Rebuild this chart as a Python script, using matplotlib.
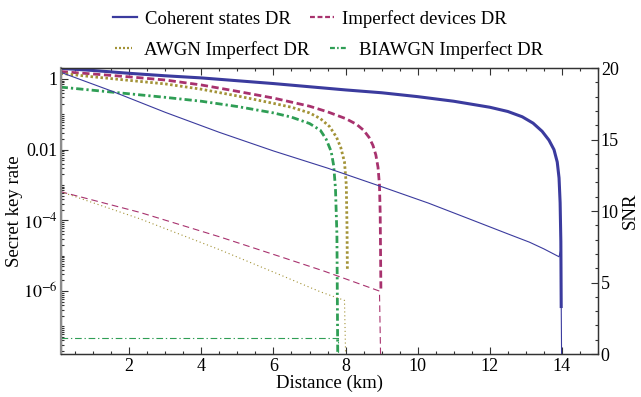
import numpy as np
import matplotlib.pyplot as plt
from matplotlib.ticker import MultipleLocator, LogLocator, FixedLocator, NullFormatter
from matplotlib.lines import Line2D

plt.rcParams['font.family'] = ['Liberation Serif', 'DejaVu Serif']
plt.rcParams['mathtext.fontset'] = 'stix'
plt.rcParams['font.size'] = 13

# key rates (log10 of rate) vs distance in km
d_coh = [0.1, 1, 2, 3, 4, 5, 6, 7, 8, 9, 10, 11, 12, 12.5, 12.9, 13.2, 13.45, 13.64,
         13.78, 13.87, 13.92, 13.95, 13.97, 13.98]
k_coh = [0.30, 0.24, 0.16, 0.09, 0.03, -0.05, -0.13, -0.22, -0.31, -0.39, -0.50,
         -0.63, -0.80, -0.92, -1.07, -1.25, -1.48, -1.73, -2.0, -2.35, -2.8, -3.5,
         -4.6, -6.48]

d_imp = [0.1, 1, 2, 3, 4, 5, 6, 7, 7.5, 8, 8.3, 8.5, 8.65, 8.76, 8.84, 8.9, 8.94,
         8.96, 8.98]
k_imp = [0.21, 0.14, 0.06, -0.03, -0.17, -0.35, -0.54, -0.77, -0.93, -1.12, -1.28,
         -1.45, -1.65, -1.88, -2.15, -2.5, -3.0, -3.8, -6.0]

d_awgn = [0.1, 1, 2, 3, 4, 5, 6, 6.5, 7, 7.3, 7.56, 7.75, 7.87, 7.97, 8.02, 8.04, 8.05]
k_awgn = [0.16, 0.06, -0.04, -0.14, -0.29, -0.48, -0.69, -0.80, -0.96, -1.12, -1.35,
          -1.65, -1.95, -2.35, -3.0, -4.2, -5.43]

d_bi = [0.1, 1, 2, 3, 4, 5, 6, 6.5, 7, 7.3, 7.46, 7.6, 7.67, 7.72, 7.76, 7.79]
k_bi = [-0.23, -0.32, -0.42, -0.52, -0.63, -0.78, -0.96, -1.08, -1.26, -1.45, -1.70,
        -2.05, -2.45, -3.1, -4.4, -9.0]

# SNR curves (right axis)
ds_coh = [0.1, 1.5, 3, 4.5, 6, 7.5, 9, 10.3, 11.5, 12.5, 13.1, 13.5, 13.92, 13.97, 13.99]
snr_coh = [19.7, 18.4, 16.9, 15.5, 14.2, 13.0, 11.7, 10.55, 9.38, 8.4, 7.82, 7.35,
           6.8, 7.3, 0]

ds_imp = [0.1, 2.3, 4.5, 6.2, 7.4, 8.94, 8.97]
snr_imp = [11.35, 9.9, 8.2, 6.8, 5.8, 4.4, 0]

ds_awgn = [0.1, 2.3, 4.5, 6.17, 7.3, 7.97, 8.0]
snr_awgn = [11.35, 9.45, 7.3, 5.55, 4.35, 3.75, 0]

ds_bi = [0.1, 7.74, 7.79, 7.79]
snr_bi = [1.1, 1.1, 1.1, 0]

c_blue = '#3b3b9e'
c_purple = '#a8326e'
c_olive = '#a39337'
c_green = '#2f9e55'

fig = plt.figure(figsize=(6.41, 3.97), dpi=100)
ax = fig.add_axes([0.0947, 0.1083, 0.8382, 0.7204])
ax2 = ax.twinx()

ax.plot(d_coh, 10 ** np.array(k_coh), color=c_blue, lw=2.2, solid_capstyle='butt')
ax.plot(d_imp, 10 ** np.array(k_imp), color=c_purple, lw=2.0, ls=(0, (2.6, 1.3)))
ax.plot(d_awgn, 10 ** np.array(k_awgn), color=c_olive, lw=2.0, ls=(0, (0.9, 0.9)))
ax.plot(d_bi, 10 ** np.array(k_bi), color=c_green, lw=2.0, ls=(0, (2.6, 1.1, 0.8, 1.1)))

ax2.plot(ds_coh, snr_coh, color=c_blue, lw=0.8)
ax2.plot(ds_imp, snr_imp, color=c_purple, lw=0.8, ls=(0, (6, 3.5)))
ax2.plot(ds_awgn, snr_awgn, color=c_olive, lw=0.8, ls=(0, (1, 2.5)))
ax2.plot(ds_bi, snr_bi, color=c_green, lw=0.8, ls=(0, (6, 2.5, 1.2, 2.5)))

ax.set_yscale('log')
ax.set_xlim(0.1, 15)
ax.set_ylim(10 ** -7.78, 10 ** 0.31)
ax2.set_ylim(0, 20)

ax.xaxis.set_major_locator(MultipleLocator(2))
ax.xaxis.set_minor_locator(MultipleLocator(0.5))
ax.yaxis.set_major_locator(FixedLocator([1, 1e-2, 1e-4, 1e-6]))
ax.yaxis.set_minor_locator(LogLocator(base=10, subs=np.arange(1, 10), numticks=30))
ax.yaxis.set_minor_formatter(NullFormatter())
ax.set_yticklabels(['1', '0.01', r'$10^{-4}$', r'$10^{-6}$'])
ax2.yaxis.set_major_locator(MultipleLocator(5))
ax2.yaxis.set_minor_locator(MultipleLocator(1))

ax.tick_params(which='both', direction='in', top=True, right=False, colors='#333333',
               labelcolor='black', labelsize=13, width=0.8)
ax.tick_params(which='major', length=5)
ax.tick_params(which='minor', length=2.5)
ax2.tick_params(which='both', direction='in', colors='#333333', labelcolor='black',
                labelsize=13, width=0.8)
ax2.tick_params(which='major', length=5, pad=2)
ax2.tick_params(which='minor', length=2.5)
ax.tick_params(axis='x', pad=3)
ax.tick_params(axis='y', pad=2)

for a in (ax, ax2):
    for s in a.spines.values():
        s.set_color('#333333')
        s.set_linewidth(0.9)
ax2.spines['left'].set_color('#8c8c8c')
ax2.spines['left'].set_linewidth(1.6)

ax.set_xlabel('Distance (km)', fontsize=13.5, labelpad=0)
ax.set_ylabel('Secret key rate', fontsize=13.5, labelpad=0)
ax2.set_ylabel('SNR', fontsize=13.5, labelpad=2)

row1 = [Line2D([], [], color=c_blue, lw=1.6),
        Line2D([], [], color=c_purple, lw=1.6, ls=(0, (2.2, 1.2)))]
row2 = [Line2D([], [], color=c_olive, lw=1.6, ls=(0, (0.9, 0.9))),
        Line2D([], [], color=c_green, lw=1.6, ls=(0, (2.2, 1.0, 0.7, 1.0)))]
leg1 = fig.legend(row1, ['Coherent states DR', 'Imperfect devices DR'], ncol=2,
                  loc='center left', bbox_to_anchor=(113 / 641, 1 - 19 / 397),
                  frameon=False, borderpad=0, borderaxespad=0, handlelength=1.3,
                  handletextpad=0.43, columnspacing=1.0, fontsize=13.5)
leg2 = fig.legend(row2, ['AWGN Imperfect DR', 'BIAWGN Imperfect DR'], ncol=2,
                  loc='center left', bbox_to_anchor=(115 / 641, 1 - 50 / 397),
                  frameon=False, borderpad=0, borderaxespad=0, handlelength=0.9,
                  handletextpad=0.65, columnspacing=1.1, fontsize=13.5)

fig.savefig('out.png', dpi=100)
